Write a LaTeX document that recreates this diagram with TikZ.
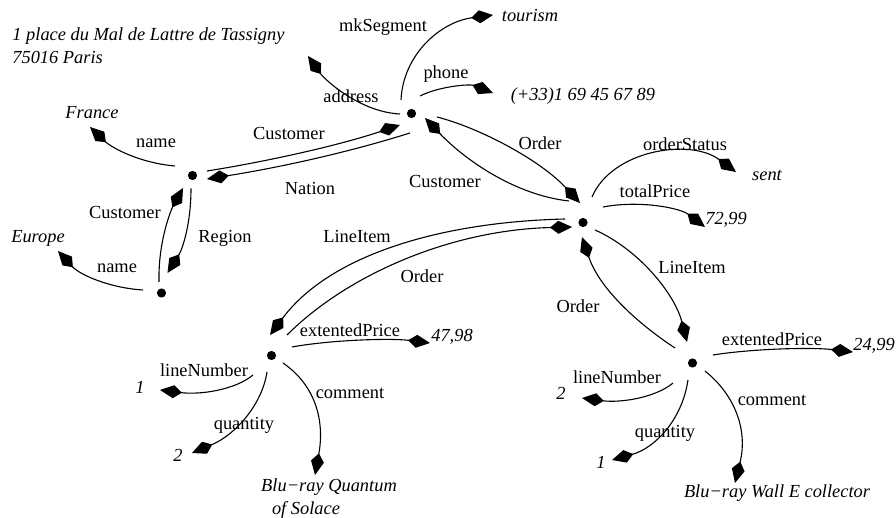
\documentclass[tikz,border=0pt]{standalone}
\usepackage{fontspec}
\setmainfont{Liberation Serif}
\usetikzlibrary{arrows.meta}
\begin{document}
\begin{tikzpicture}[x=0.5pt,y=-0.5pt,
  dot/.style={circle,fill=black,inner sep=0pt,minimum size=4.6pt},
  rel/.style={line width=0.55pt,-{Kite[length=11pt,width=6.5pt,inset=4.2pt]}},
  lbl/.style={inner sep=0pt,font=\fontsize{9.2pt}{11pt}\selectfont},
  val/.style={inner sep=0pt,font=\fontsize{9.2pt}{11pt}\selectfont\itshape}]
\useasboundingbox (0,0) rectangle (896,518);
% entity dots
\node[dot] (C) at (411.5,113.5) {};
\node[dot] (N) at (192.5,175.5) {};
\node[dot] (R) at (161.5,293) {};
\node[dot] (O) at (583,222.5) {};
\node[dot] (L1) at (271.5,355.5) {};
\node[dot] (L2) at (692.5,363) {};
% values
\node[val,anchor=west] (addr1) at (12,36) {1 place du Mal de Lattre de Tassigny};
\node[val,anchor=west] (addr2) at (12,57.5) {75016 Paris};
\node[val] (tourism) at (530,16) {tourism};
\node[val] (phoneval) at (583,96) {(+33)1 69 45 67 89};
\node[val] (france) at (92,112.5) {France};
\node[val] (europe) at (38,238) {Europe};
\node[val] (sent) at (767,175) {sent};
\node[val] (tp) at (726,220) {72,99};
\node[val] (p1) at (452,337) {47,98};
\node[val] (n1) at (140,387) {1};
\node[val] (q1) at (178,455) {2};
\node[val] (c1a) at (329,487) {Blu−ray Quantum};
\node[val] (c1b) at (306,510) {of Solace};
\node[val] (p2) at (874,346) {24,99};
\node[val] (n2) at (561,393) {2};
\node[val] (q2) at (601,462) {1};
\node[val] (c2) at (777,493) {Blu−ray Wall E collector};
% labels
\node[lbl] at (383,27) {mkSegment};
\node[lbl] at (446,74) {phone};
\node[lbl] at (351,96) {address};
\node[lbl] at (156,143) {name};
\node[lbl] at (289,134) {Customer};
\node[lbl] at (310,189) {Nation};
\node[lbl] at (125,213) {Customer};
\node[lbl] at (225,238) {Region};
\node[lbl] at (117,268) {name};
\node[lbl] at (540,143) {Order};
\node[lbl] at (445,182) {Customer};
\node[lbl] at (685,144) {orderStatus};
\node[lbl] at (655,191) {totalPrice};
\node[lbl] at (692,268) {LineItem};
\node[lbl] at (578,306) {Order};
\node[lbl] at (357,237) {LineItem};
\node[lbl] at (422,276) {Order};
\node[lbl] at (350,330) {extentedPrice};
\node[lbl] at (204,370) {lineNumber};
\node[lbl] at (350,393) {comment};
\node[lbl] at (244,425) {quantity};
\node[lbl] at (772,339) {extentedPrice};
\node[lbl] at (617,377) {lineNumber};
\node[lbl] at (772,400) {comment};
\node[lbl] at (665,433) {quantity};
% free ends
\coordinate (tAddr) at (308,56);
\coordinate (tTour) at (493,15);
\coordinate (tPhone) at (493,93);
\coordinate (tFrance) at (90,127);
\coordinate (tEurope) at (58,251);
\coordinate (tSent) at (736,172);
\coordinate (tTotal) at (705,227);
\coordinate (tP1) at (430,343);
\coordinate (tN1) at (160,390);
\coordinate (tQ1) at (192,453);
\coordinate (tC1) at (315,475);
\coordinate (tP2) at (853,352);
\coordinate (tN2) at (582,398);
\coordinate (tQ2) at (612,460);
\coordinate (tC2) at (735,483);
% customer
\draw[rel] ([shift={(-11.5,0.5)}]C.center) .. controls (360,112) and (325,80) .. (tAddr);
\draw[rel] ([shift={(-10.5,-13.5)}]C.center) .. controls (403,55) and (440,22) .. (tTour);
\draw[rel] ([shift={(8.5,-17.5)}]C.center) .. controls (440,86) and (470,84) .. (tPhone);
\draw[rel] ([shift={(14.5,-4.5)}]N.center) .. controls (270,161) and (340,145) .. ([shift={(-11.5,11.5)}]C.center);
\draw[rel] ([shift={(-1.5,19.5)}]C.center) .. controls (340,155) and (270,169) .. ([shift={(14.5,3.5)}]N.center);
% nation / region
\draw[rel] ([shift={(-17.5,-9.5)}]N.center) .. controls (140,163) and (112,148) .. (tFrance);
\draw[rel] ([shift={(-2.5,-11)}]R.center) .. controls (158,240) and (172,208) .. ([shift={(-9.5,12.5)}]N.center);
\draw[rel] ([shift={(-1.5,13)}]N.center) .. controls (191,225) and (182,250) .. ([shift={(6,-20)}]R.center);
\draw[rel] ([shift={(-18.5,-3)}]R.center) .. controls (110,288) and (80,275) .. (tEurope);
% order
\draw[rel] ([shift={(25.5,3.5)}]C.center) .. controls (480,128) and (540,160) .. ([shift={(-3,-19.5)}]O.center);
\draw[rel] ([shift={(-14,-21.5)}]O.center) .. controls (515,195) and (465,160) .. ([shift={(13.5,4.5)}]C.center);
\draw[rel] ([shift={(9,-25.5)}]O.center) .. controls (612,150) and (690,138) .. (tSent);
\draw[rel] ([shift={(20,-15.5)}]O.center) .. controls (640,200) and (680,208) .. (tTotal);
\draw[rel] ([shift={(-18,-3.5)}]O.center) .. controls (440,222) and (330,255) .. ([shift={(-1.5,-20.5)}]L1.center);
\draw[rel] ([shift={(15.5,-20.5)}]L1.center) .. controls (347,275) and (450,230) .. ([shift={(-11,4.5)}]O.center);
\draw[rel] ([shift={(12,7.5)}]O.center) .. controls (640,250) and (675,295) .. ([shift={(-5.5,-21)}]L2.center);
\draw[rel] ([shift={(-17.5,-15)}]L2.center) .. controls (640,325) and (600,290) .. ([shift={(-1,14.5)}]O.center);
% line item 1
\draw[rel] ([shift={(20.5,-8.5)}]L1.center) .. controls (330,340) and (390,338) .. (tP1);
\draw[rel] ([shift={(-18.5,19.5)}]L1.center) .. controls (235,390) and (200,395) .. (tN1);
\draw[rel] ([shift={(-4.5,16.5)}]L1.center) .. controls (262,405) and (235,435) .. (tQ1);
\draw[rel] ([shift={(11.5,7.5)}]L1.center) .. controls (315,385) and (325,420) .. (tC1);
% line item 2
\draw[rel] ([shift={(20.5,-8)}]L2.center) .. controls (750,349) and (810,347) .. (tP2);
\draw[rel] ([shift={(-19.5,20)}]L2.center) .. controls (655,398) and (620,403) .. (tN2);
\draw[rel] ([shift={(-4.5,17)}]L2.center) .. controls (682,420) and (655,448) .. (tQ2);
\draw[rel] ([shift={(12.5,8)}]L2.center) .. controls (735,395) and (748,430) .. (tC2);
\end{tikzpicture}
\end{document}
